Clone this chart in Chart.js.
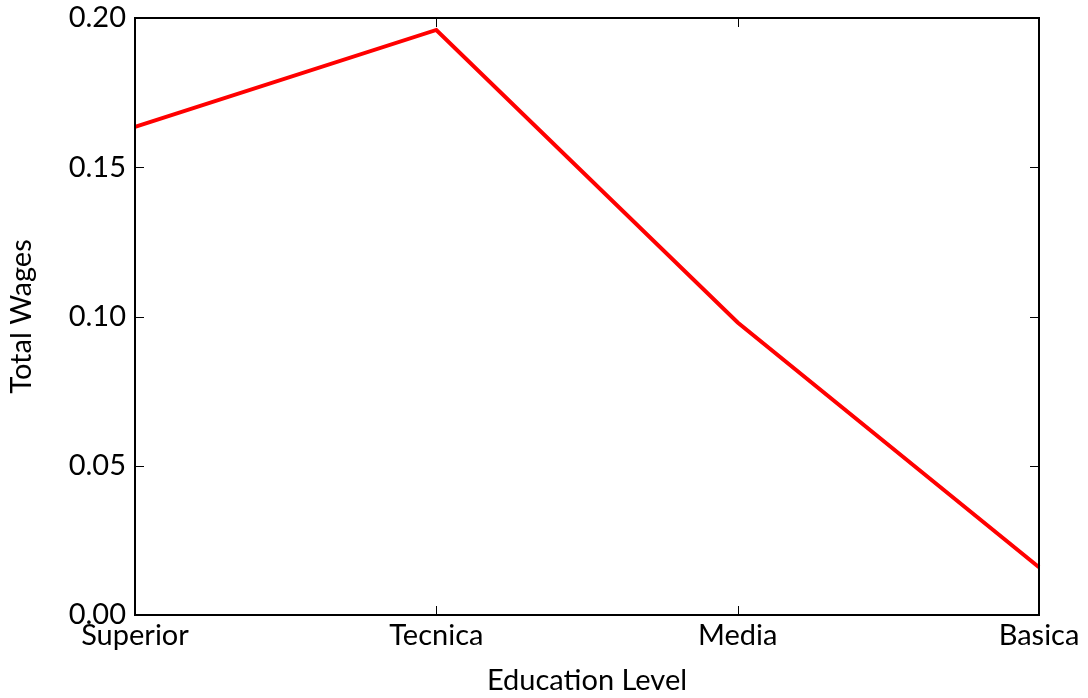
<!DOCTYPE html>
<html>
<head>
<meta charset="utf-8">
<script src="https://cdn.jsdelivr.net/npm/chart.js@4.4.1/dist/chart.umd.min.js"></script>
<style>
  html, body { margin: 0; padding: 0; background: #ffffff; }
  #wrap { width: 1088px; height: 698px; }
</style>
</head>
<body>
<div id="wrap"><canvas id="wages" width="1088" height="698"></canvas></div>
<script>
"use strict";

// chart data
const educationLevels = ['Superior', 'Tecnica', 'Media', 'Basica'];
const totalWages = [0.1635, 0.196, 0.098, 0.016];
const yTicks = [0.00, 0.05, 0.10, 0.15, 0.20];

const FONT = 'Lato, "DejaVu Sans", sans-serif';
const FONT_SIZE = 29;

// frame + inward ticks on all four sides, matplotlib classic look
const framePlugin = {
    id: 'frame',
    afterDraw(chart) {
        const ctx = chart.ctx;
        const area = chart.chartArea;
        const xs = chart.scales.x;
        const ys = chart.scales.y;
        const len = 9;
        ctx.save();
        ctx.strokeStyle = '#000000';
        ctx.lineWidth = 1;
        ctx.beginPath();
        xs.ticks.forEach((t, i) => {
            const px = Math.round(xs.getPixelForTick(i)) + 0.5;
            ctx.moveTo(px, area.bottom);
            ctx.lineTo(px, area.bottom - len);
            ctx.moveTo(px, area.top);
            ctx.lineTo(px, area.top + len);
        });
        ys.ticks.forEach((t, i) => {
            const py = Math.round(ys.getPixelForTick(i)) + 0.5;
            ctx.moveTo(area.left, py);
            ctx.lineTo(area.left + len, py);
            ctx.moveTo(area.right, py);
            ctx.lineTo(area.right - len, py);
        });
        ctx.stroke();
        ctx.lineWidth = 2;
        ctx.strokeRect(area.left, area.top, area.right - area.left, area.bottom - area.top);
        ctx.restore();
    }
};

const ctx = document.getElementById('wages').getContext('2d');

new Chart(ctx, {
    type: 'line',
    data: {
        labels: educationLevels,
        datasets: [{
            data: totalWages,
            borderColor: '#ff0000',
            borderWidth: 4,
            pointRadius: 0,
            tension: 0,
            fill: false
        }]
    },
    options: {
        responsive: false,
        animation: false,
        clip: false,
        layout: {
            padding: { top: 18, right: 49, left: 0, bottom: 0 }
        },
        plugins: {
            legend: { display: false },
            tooltip: { enabled: false }
        },
        scales: {
            x: {
                type: 'category',
                offset: false,
                grid: { display: false, drawTicks: false },
                border: { display: false },
                ticks: {
                    color: '#000000',
                    font: { family: FONT, size: FONT_SIZE },
                    padding: 3,
                    maxRotation: 0,
                    autoSkip: false
                },
                title: {
                    display: true,
                    text: 'Education Level',
                    color: '#000000',
                    font: { family: FONT, size: FONT_SIZE },
                    padding: { top: 0, bottom: 0 }
                },
                afterFit: scale => {
                    scale.height = 83;
                    scale.paddingLeft = 0;
                    scale.paddingRight = 0;
                }
            },
            y: {
                min: 0,
                max: 0.2,
                grid: { display: false, drawTicks: false },
                border: { display: false },
                afterBuildTicks: scale => {
                    scale.ticks = yTicks.map(v => ({ value: v }));
                },
                ticks: {
                    color: '#000000',
                    font: { family: FONT, size: FONT_SIZE },
                    padding: 9,
                    callback: value => value.toFixed(2)
                },
                title: {
                    display: true,
                    text: 'Total Wages',
                    color: '#000000',
                    font: { family: FONT, size: FONT_SIZE },
                    padding: { top: 4, bottom: 0 }
                },
                afterFit: scale => {
                    scale.width = 135;
                    scale.paddingTop = 0;
                    scale.paddingBottom = 0;
                }
            }
        }
    },
    plugins: [framePlugin]
});
</script>
</body>
</html>
